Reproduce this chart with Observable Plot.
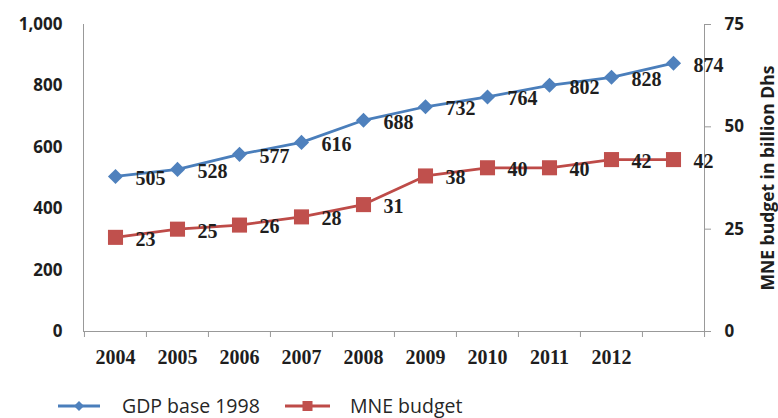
<!DOCTYPE html>
<html>
<head>
<meta charset="utf-8">
<script src="https://cdn.jsdelivr.net/npm/d3@7"></script>
<script src="https://cdn.jsdelivr.net/npm/@observablehq/plot@0.6"></script>
<style>
  body { margin: 0; background: #fff; }
  #chart { width: 778px; position: relative; }
  #chart svg { display: block; }
  .legend { position: relative; height: 42px;
            font-family: "Open Sans", sans-serif; font-size: 19.5px; line-height: 20px; color: #262626; }
  .legend .item { position: absolute; top: 20px; height: 20px; display: flex; align-items: center; }
  .legend svg { display: block; }
</style>
</head>
<body>
<div id="chart"></div>
<script>
// Years on the category axis; the last year carries no printed label
const years = ["2004", "2005", "2006", "2007", "2008", "2009", "2010", "2011", "2012", "2013"];
const xTickLabels = ["2004", "2005", "2006", "2007", "2008", "2009", "2010", "2011", "2012", ""];

// GDP (base 1998), left axis
const gdp = [505, 528, 577, 616, 688, 732, 764, 802, 828, 874];
// MNE budget in billion Dhs, right axis
const mne = [23, 25, 26, 28, 31, 38, 40, 40, 42, 42];

const gdpTicks = [0, 200, 400, 600, 800, 1000];
const mneTicks = [0, 25, 50, 75];
const gdpMax = 1000;
const mneMax = 75;

const seriesNames = ["GDP base 1998", "MNE budget"];
const rightTitle = "MNE budget in billion Dhs";
const blue = "#4a7ebb", blueMark = "#4f81bd";
const red = "#be4b48", redMark = "#c0504d";
const axisGray = "#999";
const ink = "#1e1e1e";

// right-axis values are drawn on the left-axis scale
const toLeft = v => v * gdpMax / mneMax;
const fromLeft = v => Math.round(v * mneMax / gdpMax);

const gdpRows = years.map((year, i) => ({year, value: gdp[i]}));
const mneRows = years.map((year, i) => ({year, value: mne[i], y: toLeft(mne[i])}));

const W = 778, H = 376;
const mL = 83, mR = 74, mT = 24, mB = H - 331;
const step = (W - mL - mR) / years.length;

const sansBold = {fontFamily: "'Open Sans', sans-serif", fontWeight: 700, fontSize: 17};
const serifBold = {fontFamily: "'Liberation Serif', 'Times New Roman', serif", fontWeight: 700, fontSize: 20};

const chart = Plot.plot({
  width: W,
  height: H,
  marginLeft: mL,
  marginRight: mR,
  marginTop: mT,
  marginBottom: mB,
  x: {type: "point", domain: years, padding: 0.5, label: null},
  y: {domain: [0, gdpMax], label: null},
  style: {background: "#fff", overflow: "visible"},
  marks: [
    Plot.frame({anchor: "left", stroke: axisGray}),
    Plot.frame({anchor: "right", stroke: axisGray}),
    Plot.ruleY([0], {stroke: axisGray}),
    // category boundary ticks
    Plot.axisX(years, {tickSize: 6, fill: "none", stroke: axisGray, dx: -step / 2, label: null}),
    Plot.axisX(years.slice(-1), {tickSize: 6, fill: "none", stroke: axisGray, dx: step / 2, label: null}),
    // year labels
    Plot.axisX(years, {
      tickSize: 0, tickPadding: 18, label: null, fill: ink,
      tickFormat: d => xTickLabels[years.indexOf(d)],
      ...serifBold, fontSize: 20, letterSpacing: 1
    }),
    Plot.axisY(gdpTicks, {
      tickSize: 0, tickPadding: 21, label: null, fill: ink,
      tickFormat: d3.format(","), ...sansBold
    }),
    Plot.axisY(mneTicks.map(toLeft), {
      anchor: "right", tickSize: 6, tickPadding: 14, stroke: axisGray, fill: ink,
      tickFormat: fromLeft, label: null, ...sansBold
    }),
    // right-axis title
    Plot.text([rightTitle], {
      frameAnchor: "right", rotate: -90, dx: 64, text: d => d,
      textAnchor: "middle", lineAnchor: "middle",
      fill: ink, fontFamily: "'Open Sans', sans-serif", fontWeight: 700, fontSize: 17.5
    }),
    // GDP series
    Plot.line(gdpRows, {x: "year", y: "value", stroke: blue, strokeWidth: 2.75}),
    Plot.dot(gdpRows, {x: "year", y: "value", symbol: "diamond2", r: 6.8, fill: blueMark, stroke: "none"}),
    Plot.text(gdpRows, {x: "year", y: "value", text: d => String(d.value), dx: 20, dy: 2,
      textAnchor: "start", fill: ink, ...serifBold}),
    // MNE budget series
    Plot.line(mneRows, {x: "year", y: "y", stroke: red, strokeWidth: 2.75}),
    Plot.dot(mneRows, {x: "year", y: "y", symbol: "square", r: 8.5, fill: redMark, stroke: "none"}),
    Plot.text(mneRows, {x: "year", y: "y", text: d => String(d.value), dx: 20, dy: 2,
      textAnchor: "start", fill: ink, ...serifBold})
  ]
});

const root = document.getElementById("chart");
root.appendChild(chart);

// legend below the plot
const legend = document.createElement("div");
legend.className = "legend";
const swatches = [
  {name: seriesNames[0], line: blue, mark: blueMark, shape: "diamond", left: 58, width: 42, gap: 22},
  {name: seriesNames[1], line: red, mark: redMark, shape: "square", left: 285, width: 45, gap: 20}
];
for (const s of swatches) {
  const item = document.createElement("div");
  item.className = "item";
  item.style.left = s.left + "px";
  const c = s.width / 2;
  const shape = s.shape === "diamond"
    ? `<path d="M${c},1 L${c + 5},6 L${c},11 L${c - 5},6 Z" fill="${s.mark}"/>`
    : `<rect x="${c - 5}" y="1" width="10" height="10" fill="${s.mark}"/>`;
  item.innerHTML = `<svg width="${s.width}" height="12" style="margin-right:${s.gap}px"><line x1="0" x2="${s.width}" y1="6" y2="6" stroke="${s.line}" stroke-width="3"/>${shape}</svg><span>${s.name}</span>`;
  legend.appendChild(item);
}
root.appendChild(legend);
</script>
</body>
</html>
